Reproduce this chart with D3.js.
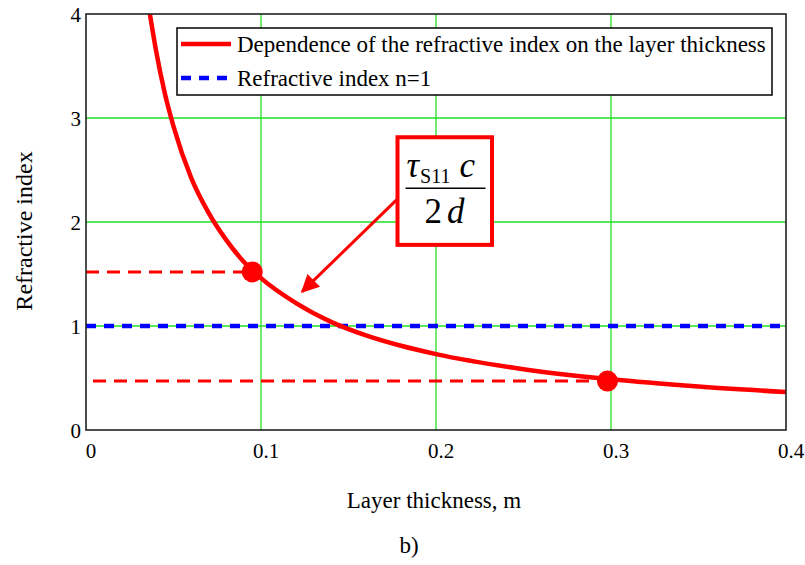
<!DOCTYPE html>
<html>
<head>
<meta charset="utf-8">
<script src="https://cdn.jsdelivr.net/npm/d3@7"></script>
<style>
  body { margin: 0; background: #fff; }
  svg { display: block; }
  svg text { font-family: 'Liberation Serif', 'Times New Roman', Times, 'DejaVu Serif', serif; }
</style>
</head>
<body>
<div id="chart"></div>
<script>
// curve: layer thickness (m) -> refractive index
var thickness = [0.0365, 0.04, 0.045, 0.05, 0.06, 0.07, 0.08, 0.09, 0.1, 0.12, 0.14, 0.16, 0.18, 0.2, 0.25, 0.3, 0.35, 0.4];
var refIndex  = [4.0, 3.65, 3.24, 2.92, 2.43, 2.09, 1.83, 1.62, 1.46, 1.22, 1.04, 0.91, 0.81, 0.73, 0.585, 0.487, 0.418, 0.365];

// marked points and their horizontal guides
var markX = [0.095, 0.298];
var markY = [1.52, 0.47];
var guideStart = [0, 0.004];

var unityLevel = 1;

var xTicks = [0, 0.1, 0.2, 0.3, 0.4];
var yTicks = [0, 1, 2, 3, 4];

var legendLabels = ["Dependence of the refractive index on the layer thickness", "Refractive index n=1"];

// annotation box and arrow, in data units
var noteBox = {x0: 0.178, x1: 0.232, y0: 2.815, y1: 1.78};
var arrow = {x0: 0.1785, y0: 2.23, x1: 0.1235, y1: 1.33};

var width = 805, height = 565;
var margin = {top: 14, right: 19, bottom: 135, left: 86};
var innerWidth = width - margin.left - margin.right;
var innerHeight = height - margin.top - margin.bottom;

var red = "#ff0000", blue = "#0000ff", green = "#22e022";
var serif = "'Liberation Serif', 'Times New Roman', Times, 'DejaVu Serif', serif";

var svg = d3.select("#chart").append("svg")
  .attr("width", width)
  .attr("height", height)
  .attr("font-family", serif);

var xScale = d3.scaleLinear().domain([0, 0.4]).range([0, innerWidth]);
var yScale = d3.scaleLinear().domain([0, 4]).range([innerHeight, 0]);

var defs = svg.append("defs");
defs.append("clipPath")
  .attr("id", "plotClip")
  .append("rect")
  .attr("width", innerWidth)
  .attr("height", innerHeight);

defs.append("marker")
  .attr("id", "arrowHead")
  .attr("viewBox", "0 0 10 10")
  .attr("refX", 9).attr("refY", 5)
  .attr("markerWidth", 7).attr("markerHeight", 6)
  .attr("markerUnits", "strokeWidth")
  .attr("orient", "auto")
  .append("path")
  .attr("d", "M0,0 L10,5 L0,10 Z")
  .attr("fill", red);

var g = svg.append("g").attr("transform", "translate(" + margin.left + "," + margin.top + ")");

// grid lines
g.append("g").selectAll("line").data(xTicks.slice(1, -1)).enter().append("line")
  .attr("x1", d => xScale(d)).attr("x2", d => xScale(d))
  .attr("y1", 0).attr("y2", innerHeight)
  .attr("stroke", green).attr("stroke-width", 1.3);
g.append("g").selectAll("line").data(yTicks.slice(1, -1)).enter().append("line")
  .attr("y1", d => yScale(d)).attr("y2", d => yScale(d))
  .attr("x1", 0).attr("x2", innerWidth)
  .attr("stroke", green).attr("stroke-width", 1.3);

// tick labels
g.append("g").selectAll("text").data(xTicks).enter().append("text")
  .attr("x", d => xScale(d) + 5)
  .attr("y", innerHeight + 28)
  .attr("text-anchor", "middle")
  .attr("font-size", 21)
  .text(d => d3.format("")(d));
g.append("g").selectAll("text").data(yTicks).enter().append("text")
  .attr("x", -5)
  .attr("y", d => yScale(d) + 1)
  .attr("dy", "0.35em")
  .attr("text-anchor", "end")
  .attr("font-size", 21)
  .text(d => d);

var plot = g.append("g").attr("clip-path", "url(#plotClip)");

// horizontal guides to the marked points
plot.selectAll(".guide").data(markX).enter().append("line")
  .attr("class", "guide")
  .attr("x1", (d, i) => xScale(guideStart[i]))
  .attr("x2", d => xScale(d))
  .attr("y1", (d, i) => yScale(markY[i]))
  .attr("y2", (d, i) => yScale(markY[i]))
  .attr("stroke", red).attr("stroke-width", 3)
  .attr("stroke-dasharray", "13,8");

// n = 1 line
plot.append("line")
  .attr("x1", 0).attr("x2", innerWidth)
  .attr("y1", yScale(unityLevel)).attr("y2", yScale(unityLevel))
  .attr("stroke", blue).attr("stroke-width", 4.5)
  .attr("stroke-dasharray", "10,8");

// curve
var line = d3.line()
  .x((d, i) => xScale(thickness[i]))
  .y(d => yScale(d))
  .curve(d3.curveMonotoneX);
plot.append("path")
  .datum(refIndex)
  .attr("d", line)
  .attr("fill", "none")
  .attr("stroke", red)
  .attr("stroke-width", 4.5);

// marked points
plot.selectAll(".mark").data(markX).enter().append("circle")
  .attr("class", "mark")
  .attr("cx", d => xScale(d))
  .attr("cy", (d, i) => yScale(markY[i]))
  .attr("r", 10.5)
  .attr("fill", red);

// plot frame
g.append("rect")
  .attr("width", innerWidth).attr("height", innerHeight)
  .attr("fill", "none").attr("stroke", "#222").attr("stroke-width", 1.6);

// legend
var legend = g.append("g").attr("transform", "translate(91,14)");
legend.append("rect")
  .attr("width", 595).attr("height", 67)
  .attr("fill", "#fff").attr("stroke", "#111").attr("stroke-width", 1.6);
legend.selectAll(".sample").data(legendLabels).enter().append("line")
  .attr("x1", 4).attr("x2", 54)
  .attr("y1", (d, i) => 16 + i * 34).attr("y2", (d, i) => 16 + i * 34)
  .attr("stroke", (d, i) => i == 0 ? red : blue)
  .attr("stroke-width", 4.5)
  .attr("stroke-dasharray", (d, i) => i == 0 ? null : "10,8");
legend.selectAll(".label").data(legendLabels).enter().append("text")
  .attr("x", 60)
  .attr("y", (d, i) => 24 + i * 34)
  .attr("font-size", 23)
  .text(d => d);

// annotation: formula box with arrow
var note = g.append("g");
note.append("line")
  .attr("x1", xScale(arrow.x0)).attr("y1", yScale(arrow.y0))
  .attr("x2", xScale(arrow.x1)).attr("y2", yScale(arrow.y1))
  .attr("stroke", red).attr("stroke-width", 3)
  .attr("marker-end", "url(#arrowHead)");
note.append("rect")
  .attr("x", xScale(noteBox.x0)).attr("y", yScale(noteBox.y0))
  .attr("width", xScale(noteBox.x1) - xScale(noteBox.x0))
  .attr("height", yScale(noteBox.y1) - yScale(noteBox.y0))
  .attr("fill", "#fff").attr("stroke", red).attr("stroke-width", 4);

var bx = xScale(noteBox.x0), by = yScale(noteBox.y0);
var num = note.append("text").attr("x", bx + 9).attr("y", by + 40).attr("font-size", 35);
num.append("tspan").attr("font-style", "italic").text("τ");
num.append("tspan").attr("font-size", 20).attr("dy", 6).attr("dx", 1).text("S11");
num.append("tspan").attr("font-style", "italic").attr("dy", -6).attr("dx", 9).text("c");
note.append("line")
  .attr("x1", bx + 8).attr("x2", bx + 88)
  .attr("y1", by + 51).attr("y2", by + 51)
  .attr("stroke", "#000").attr("stroke-width", 1.5);
var den = note.append("text").attr("x", bx + 27).attr("y", by + 86).attr("font-size", 35);
den.append("tspan").text("2");
den.append("tspan").attr("font-style", "italic").attr("dx", 5).text("d");

// axis titles
svg.append("text")
  .attr("transform", "translate(32," + (margin.top + innerHeight / 2 + 9) + ") rotate(-90)")
  .attr("text-anchor", "middle")
  .attr("font-size", 24)
  .text("Refractive index");
svg.append("text")
  .attr("x", 434).attr("y", 508)
  .attr("text-anchor", "middle")
  .attr("font-size", 23)
  .text("Layer thickness, m");
svg.append("text")
  .attr("x", 409).attr("y", 553)
  .attr("text-anchor", "middle")
  .attr("font-size", 23)
  .text("b)");
</script>
</body>
</html>
